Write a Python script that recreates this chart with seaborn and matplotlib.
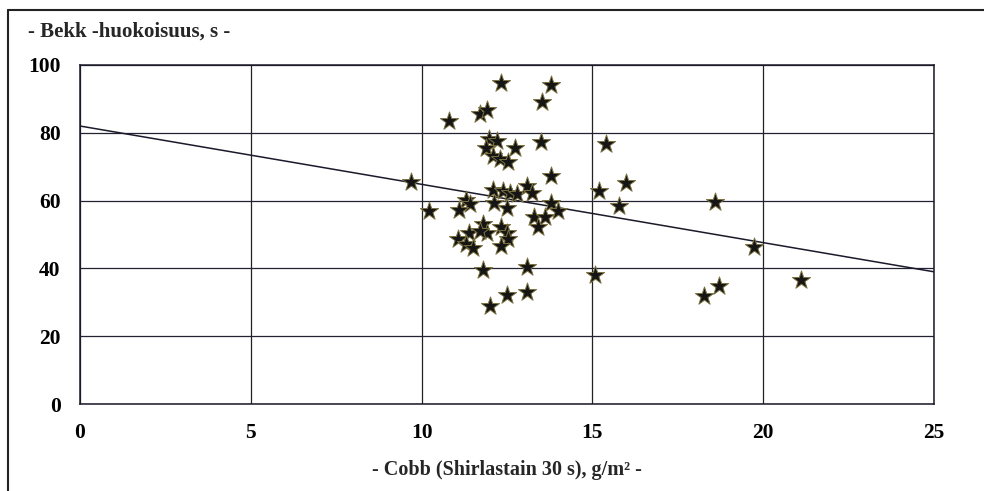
import matplotlib
matplotlib.use("Agg")
import matplotlib.pyplot as plt
from matplotlib.lines import Line2D
import seaborn as sns
import pandas as pd
import numpy as np

# Data
cobb = [12.31, 13.78, 13.51, 10.80, 11.70, 11.92, 11.97, 12.21, 12.72, 13.50,
        15.39, 11.88, 12.09, 12.29, 12.52, 13.78, 9.70, 12.09, 12.37, 12.58,
        12.80, 13.10, 13.22, 15.18, 15.97, 11.31, 11.41, 12.11, 12.51, 13.78,
        14.00, 15.79, 10.21, 11.09, 13.29, 13.61, 13.41, 11.80, 11.92, 12.31,
        12.50, 12.53, 12.31, 11.39, 11.07, 11.29, 11.51, 11.70, 11.80, 13.10,
        15.09, 12.51, 13.10, 12.01, 18.59, 19.72, 18.28, 18.71, 21.11]
bekk = [94.8, 94.2, 89.2, 83.5, 85.6, 86.8, 78.2, 77.7, 75.4, 77.2,
        76.6, 75.4, 73.3, 72.3, 71.5, 67.3, 65.4, 63.2, 62.9, 62.2,
        61.9, 64.2, 62.2, 62.9, 65.2, 60.2, 58.9, 59.4, 57.9, 59.4,
        56.8, 58.3, 56.9, 57.1, 55.3, 55.3, 52.2, 53.2, 50.4, 52.3,
        50.4, 48.6, 46.6, 50.4, 48.8, 47.1, 46.1, 51.0, 39.5, 40.5,
        38.2, 32.3, 33.1, 28.8, 59.6, 46.4, 32.0, 34.8, 36.5]
trend_intercept = 82.0
trend_slope = -1.72
x_ticks = [0, 5, 10, 15, 20, 25]
y_ticks = [0, 20, 40, 60, 80, 100]
y_title = "- Bekk -huokoisuus, s -"
x_title = "- Cobb (Shirlastain 30 s), g/m² -"

df = pd.DataFrame({"cobb": cobb, "bekk": bekk})

sns.set_theme(style="white")
plt.rcParams["font.family"] = ["Liberation Serif", "DejaVu Serif"]
plt.rcParams["font.weight"] = "bold"

fig = plt.figure(figsize=(9.84, 4.91), dpi=100)
fig.patch.set_facecolor("white")
W, H = 984, 491
ax = fig.add_axes([80 / W, 1 - 404 / H, (934 - 80) / W, (404 - 65) / H])

# grid
for xv in x_ticks:
    ax.axvline(xv, color="#222222", lw=0.9, zorder=1)
for yv in y_ticks:
    ax.axhline(yv, color="#222233", lw=0.9, zorder=1)

# trend line
xs = np.array([x_ticks[0], x_ticks[-1]], dtype=float)
ax.plot(xs, trend_intercept + trend_slope * xs, color="#1a1a2a", lw=1.1, zorder=2)

sns.scatterplot(data=df, x="cobb", y="bekk", ax=ax, marker="*", s=190,
                color="#151515", edgecolor="#7a7040", linewidth=0.7, zorder=3)

ax.set_xlim(0, 25)
ax.set_ylim(0, 100)
ax.set_xticks(x_ticks)
ax.set_yticks(y_ticks)
ax.set_xticklabels([str(t) for t in x_ticks], fontsize=15.5, fontweight="bold")
ax.set_yticklabels([str(t) for t in y_ticks], fontsize=15.5, fontweight="bold")
ax.tick_params(axis="x", length=0, pad=14, colors="black")
ax.tick_params(axis="y", length=0, pad=14, colors="black")
ax.set_xlabel(x_title, fontsize=14.5, fontweight="bold", labelpad=12)
ax.set_ylabel("")
for sp in ax.spines.values():
    sp.set_visible(True)
    sp.set_color("#1a1a2a")
    sp.set_linewidth(1.1)

fig.text(28 / W, 1 - 32 / H, y_title, fontsize=15, fontweight="bold",
         ha="left", va="center")

# outer frame (left and top edges)
fig.add_artist(Line2D([8 / W, 8 / W], [0, 1 - 10 / H], transform=fig.transFigure,
                      color="#222222", lw=1.5))
fig.add_artist(Line2D([8 / W, 1], [1 - 10 / H, 1 - 10 / H], transform=fig.transFigure,
                      color="#222222", lw=1.5))

fig.savefig("out.png", dpi=100)
